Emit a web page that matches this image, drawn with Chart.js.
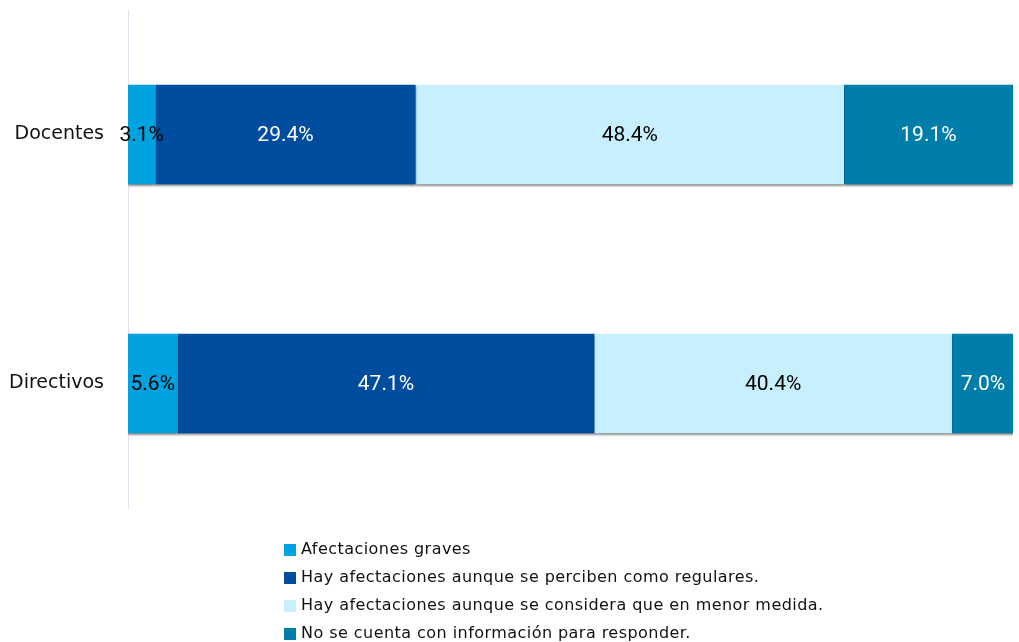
<!DOCTYPE html>
<html>
<head>
<meta charset="utf-8">
<script src="https://cdn.jsdelivr.net/npm/chart.js@4.4.0/dist/chart.umd.min.js"></script>
<style>
  html, body { margin: 0; padding: 0; background: #fff; }
  #wrap { width: 1019px; height: 642px; }
</style>
</head>
<body>
<div id="wrap"><canvas id="mycanvas"></canvas></div>
<script>
// categories and series
const grupos = ['Docentes', 'Directivos'];
const graves = [3.1, 5.6];
const regulares = [29.4, 47.1];
const menorMedida = [48.4, 40.4];
const sinInfo = [19.1, 7.0];

const FONT = "'DejaVu Sans', sans-serif";
const NUM_FONT = "Roboto, sans-serif";

const data = {
  labels: grupos,
  datasets: [
    { label: 'Afectaciones graves', data: graves, backgroundColor: '#00A3DF', labelColor: '#000' },
    { label: 'Hay afectaciones aunque se perciben como regulares.', data: regulares, backgroundColor: '#004C9F', labelColor: '#fff' },
    { label: 'Hay afectaciones aunque se considera que en menor medida.', data: menorMedida, backgroundColor: '#C7EFFD', labelColor: '#000' },
    { label: 'No se cuenta con información para responder.', data: sinInfo, backgroundColor: '#007EA9', labelColor: '#fff' }
  ]
};

// soft shadow under the bars
const barShadow = {
  id: 'barShadow',
  beforeDatasetsDraw(chart) {
    const c = chart.ctx;
    c.save();
    c.shadowColor = 'rgba(0,0,0,0.45)';
    c.shadowBlur = 2;
    c.shadowOffsetX = 0;
    c.shadowOffsetY = 2;
  },
  afterDatasetsDraw(chart) {
    chart.ctx.restore();
  }
};

// value labels in the middle of each segment
const valueLabels = {
  id: 'valueLabels',
  afterDatasetsDraw(chart) {
    const c = chart.ctx;
    c.save();
    c.font = '21px ' + NUM_FONT;
    c.textAlign = 'center';
    c.textBaseline = 'middle';
    chart.data.datasets.forEach((ds, i) => {
      chart.getDatasetMeta(i).data.forEach((bar, j) => {
        const p = bar.getProps(['x', 'y', 'base'], true);
        c.fillStyle = ds.labelColor;
        c.fillText(ds.data[j].toFixed(1) + '%', (p.x + p.base) / 2, p.y + 1);
      });
    });
    c.restore();
  }
};

// vertical legend below the chart
const listLegend = {
  id: 'listLegend',
  afterDraw(chart) {
    const c = chart.ctx;
    c.save();
    c.font = '16px ' + FONT;
    c.letterSpacing = '0.45px';
    c.textBaseline = 'middle';
    chart.data.datasets.forEach((ds, i) => {
      const y = 550 + i * 28;
      c.fillStyle = ds.backgroundColor;
      c.fillRect(284, y - 6, 12, 12);
      c.fillStyle = '#111';
      c.fillText(ds.label, 301, y);
    });
    c.restore();
  }
};

const config = {
  type: 'bar',
  data: data,
  plugins: [barShadow, valueLabels, listLegend],
  options: {
    indexAxis: 'y',
    responsive: true,
    maintainAspectRatio: false,
    animation: false,
    layout: { padding: { top: 10, right: 6, bottom: 134, left: 0 } },
    datasets: {
      bar: { categoryPercentage: 1, barPercentage: 0.4, borderWidth: 0 }
    },
    plugins: {
      legend: { display: false },
      tooltip: { enabled: false },
      title: { display: false }
    },
    scales: {
      x: {
        stacked: true,
        display: false,
        min: 0,
        max: 100
      },
      y: {
        stacked: true,
        grid: { display: false },
        border: { display: true, color: '#E4DEF0', width: 1 },
        ticks: { color: '#111', font: { family: FONT, size: 19 }, padding: 16 },
        afterFit(scale) {
          scale.width = 128;
          scale.paddingTop = 0;
          scale.paddingBottom = 0;
        }
      }
    }
  }
};

new Chart(document.getElementById('mycanvas'), config);
</script>
</body>
</html>
